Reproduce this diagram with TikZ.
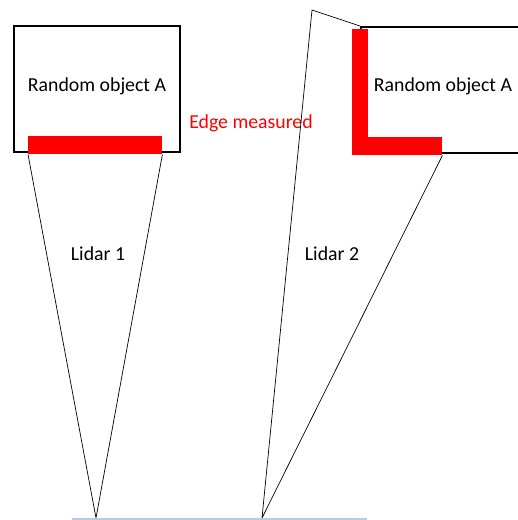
\documentclass[tikz,border=0pt]{standalone}
\usepackage{fontspec}
\setmainfont{Carlito}
\usepackage{tikz}
\usetikzlibrary{positioning,calc}
\definecolor{EdgeRed}{HTML}{FF0000}
\definecolor{GroundBlue}{HTML}{B8CCE0}

\begin{document}
\begin{tikzpicture}[x=1pt, y=-1pt,
    every node/.style={font=\fontsize{19.8}{23}\selectfont},
    objbox/.style={draw=black, line width=2pt, minimum width=166pt, minimum height=126pt, inner sep=0pt},
    edgebar/.style={fill=EdgeRed, draw=none, inner sep=0pt},
    beam/.style={draw=black, line width=0.7pt}]
  \clip (0,0) rectangle (518,520);
  \fill[white] (0,0) rectangle (518,520);

  % objects
  \node[objbox] (obj1) at (97,89) {};
  \node at (97,86) (lab1) {Random object A};
  \node[objbox, minimum width=180pt, anchor=north west] (obj2) at (360,26) {};
  \node at (443,86) (lab2) {Random object A};

  % measured edges
  \node[edgebar, minimum width=134pt, minimum height=18pt, anchor=north west] (edge1) at (28,136) {};
  \node[edgebar, minimum width=16pt, minimum height=126pt, anchor=north west] (edge2v) at (352,29) {};
  \node[edgebar, minimum width=90pt, minimum height=18pt, anchor=north west] (edge2h) at (352,137) {};
  \node[text=EdgeRed] (edgelab) at (251,123) {Edge measured};

  % lidars and beams
  \coordinate (lidar1) at (96,518);
  \coordinate (lidar2) at (262,518);
  \coordinate (bounce) at (312,10);
  \draw[beam] (edge1.south west) -- (lidar1) -- (edge1.south east);
  \draw[beam] (obj2.north west) -- (bounce) -- (lidar2) -- (edge2h.south east);
  \node (lidarlab1) at (98,254) {Lidar 1};
  \node (lidarlab2) at (332,254) {Lidar 2};

  % ground
  \coordinate (g1) at (72,519);
  \coordinate (g2) at (367,519);
  \draw[GroundBlue, line width=1.2pt] (g1) -- (g2);
\end{tikzpicture}
\end{document}
